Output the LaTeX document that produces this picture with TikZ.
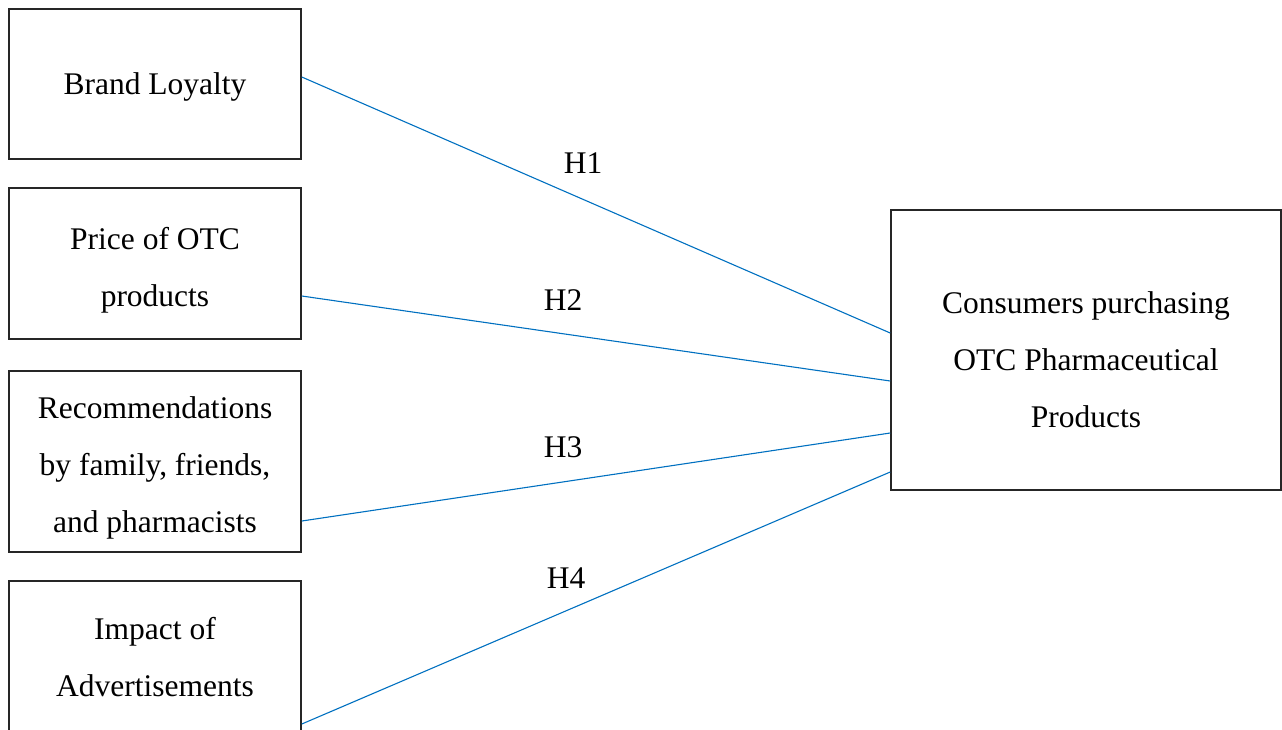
\documentclass[tikz,border=0pt]{standalone}
\usepackage{fontspec}
\setmainfont{Liberation Serif}
\usetikzlibrary{positioning}
\definecolor{linkblue}{RGB}{0,112,192}
\begin{document}
\begin{tikzpicture}[x=1pt,y=-1pt,
    factor/.style={draw=black!85,line width=1.6pt,minimum width=292pt},
    factortext/.style={align=center,font=\fontsize{31.5}{57}\selectfont},
    link/.style={draw=linkblue,line width=1.1pt},
    hyp/.style={font=\fontsize{31.5}{38}\selectfont}]
%
  \useasboundingbox (0,0) rectangle (1282,729) ;
  \clip (0,0) rectangle (1282,729) ;
%
  \node [factor,minimum height=150pt] (loyalty) at (155,84) {} ;
  \node [factor,minimum height=151pt] (price) at (155,263.5) {} ;
  \node [factor,minimum height=181pt] (recom) at (155,461.5) {} ;
  \node [factor,minimum height=152pt] (advert) at (155,657) {} ;
  \node [factor,minimum width=390pt,minimum height=280pt] (purchase) at (1086,350) {} ;
%
  \node [factortext] (loyalty-txt) at ([yshift=-3pt]loyalty.center) {Brand Loyalty} ;
  \node [factortext] (price-txt) at ([yshift=-7pt]price.center) {Price of OTC\\products} ;
  \node [factortext] (recom-txt) at ([yshift=-6pt]recom.center) {Recommendations\\by family, friends,\\and pharmacists} ;
  \node [factortext] (advert-txt) at (advert.center) {Impact of\\Advertisements} ;
  \node [factortext] (purchase-txt) at ([yshift=-10pt]purchase.center) {Consumers purchasing\\OTC Pharmaceutical\\Products} ;
%
  \draw [link] ([yshift=7pt]loyalty.east) -- ([yshift=17pt]purchase.west) ;
  \draw [link] ([yshift=-32.5pt]price.east) -- ([yshift=-31pt]purchase.west) ;
  \draw [link] ([yshift=-59.5pt]recom.east) -- ([yshift=-83pt]purchase.west) ;
  \draw [link] ([yshift=-67pt]advert.east) -- ([yshift=-122pt]purchase.west) ;
%
  \node [hyp] (h1) at (583,163) {H1} ;
  \node [hyp] (h2) at (563,300) {H2} ;
  \node [hyp] (h3) at (563,447) {H3} ;
  \node [hyp] (h4) at (566,578) {H4} ;
%
\end{tikzpicture}
\end{document}
